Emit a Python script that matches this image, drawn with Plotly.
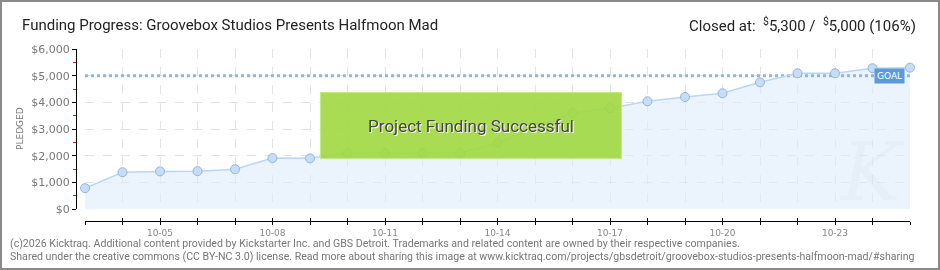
import plotly.graph_objects as go

# ---- data ----
dates = ["2015-10-%02d" % d for d in range(3, 26)]
pledged = [780, 1380, 1410, 1420, 1490, 1910, 1900, 2090, 2090, 2090, 2100,
           2490, 3060, 3600, 3780, 4040, 4200, 4340, 4750, 5090, 5090, 5280, 5300]
GOAL = 5000
title_text = "Funding Progress: Groovebox Studios Presents Halfmoon Mad"
closed_text = "Closed at:  <sup>$</sup>5,300 /  <sup>$</sup>5,000 (106%)"
footer1 = ("(c)2026 Kicktraq. Additional content provided by Kickstarter Inc. and GBS Detroit. "
           "Trademarks and related content are owned by their respective companies.")
footer2 = ("Shared under the creative commons (CC BY-NC 3.0) license. Read more about sharing this image at "
           "www.kicktraq.com/projects/gbsdetroit/groovebox-studios-presents-halfmoon-mad/#sharing")

W, H = 940, 270
L, R, T, B = 76, 30, 49, 49
PW, PH = W - L - R, H - T - B


def px(x):
    return (x - L) / PW


def py(y):
    return (H - B - y) / PH


fig = go.Figure()

# filled area
fig.add_trace(go.Scatter(x=dates, y=pledged, mode="none", fill="tozeroy",
                         fillcolor="rgba(221,235,252,0.6)", hoverinfo="skip",
                         showlegend=False))
# goal line
fig.add_trace(go.Scatter(x=[dates[0], dates[-1]], y=[GOAL, GOAL], mode="lines",
                         line=dict(color="#8db7e4", width=3, dash="dot"),
                         hoverinfo="skip", showlegend=False, cliponaxis=False))
# pledged line + markers
fig.add_trace(go.Scatter(x=dates, y=pledged, mode="lines+markers",
                         line=dict(color="#b9d7f4", width=1.5),
                         marker=dict(size=9, color="#c6ddf6",
                                     line=dict(color="#93b6dd", width=1)),
                         cliponaxis=False, showlegend=False))
# helper for upward tick marks on the x axis
fig.add_trace(go.Scatter(x=dates, y=pledged, xaxis="x2", mode="markers",
                         opacity=0, hoverinfo="skip", showlegend=False))

DAY = 86400000
fig.update_layout(
    width=W, height=H,
    margin=dict(l=L, r=R, t=T, b=B),
    paper_bgcolor="white", plot_bgcolor="white",
    xaxis=dict(type="date", domain=[9 / PW, 1], anchor="free", position=0,
               range=[dates[0], dates[-1]], tick0="2015-10-05", dtick=3 * DAY,
               tickformat="%m-%d", showline=True, linecolor="black", linewidth=1,
               ticks="outside", ticklen=3, tickcolor="black",
               showgrid=True, gridcolor="#e3e3e3", griddash="dash", gridwidth=1,
               minor=dict(dtick=DAY, ticks="outside", ticklen=3, tickcolor="black",
                          showgrid=True, gridcolor="#e3e3e3", griddash="dash"),
               tickfont=dict(family="DejaVu Sans", size=9, color="#888"),
               zeroline=False, fixedrange=True),
    xaxis2=dict(type="date", overlaying="x", anchor="free", position=0,
                domain=[9 / PW, 1], range=[dates[0], dates[-1]],
                tick0="2015-10-05", dtick=DAY, ticks="inside", ticklen=3,
                tickcolor="black", showticklabels=False, showgrid=False,
                showline=False, zeroline=False),
    yaxis=dict(domain=[12 / PH, 1], anchor="free", position=0,
               range=[0, 6000], dtick=1000, tickformat="$,.0f",
               showline=True, linecolor="black", linewidth=1,
               ticks="outside", ticklen=4, tickcolor="black",
               showgrid=True, gridcolor="#e3e3e3", griddash="dash",
               minor=dict(dtick=500, ticks="outside", ticklen=3, tickcolor="red",
                          showgrid=False),
               tickfont=dict(family="DejaVu Sans", size=11, color="#777"),
               zeroline=False, fixedrange=True),
)

ann = []
ann.append(dict(text=title_text, xref="paper", yref="paper", x=px(20), y=py(25),
                xanchor="left", yanchor="middle", showarrow=False,
                font=dict(family="Roboto", size=15, color="#222")))
ann.append(dict(text=closed_text, xref="paper", yref="paper", x=px(918), y=py(25),
                xanchor="right", yanchor="middle", showarrow=False,
                font=dict(family="Roboto", size=15, color="#222")))
ann.append(dict(text="PLEDGED", xref="paper", yref="paper", x=px(20), y=py(129),
                xanchor="center", yanchor="middle", textangle=-90, showarrow=False,
                font=dict(family="DejaVu Sans", size=9, color="#777")))
ann.append(dict(text="GOAL", xref="paper", yref="y", x=px(905), y=GOAL,
                xanchor="right", yanchor="middle", showarrow=False,
                bgcolor="#5b9bd9", borderpad=2,
                font=dict(family="DejaVu Sans", size=9, color="white")))
ann.append(dict(text="K", xref="paper", yref="paper", x=px(872), y=py(172),
                xanchor="center", yanchor="middle", showarrow=False,
                font=dict(family="DejaVu Serif", size=80, color="rgba(0,0,0,0.018)",
                          style="italic")))
ann.append(dict(text="Project Funding Successful", xref="paper", yref="paper",
                x=px(470.5), y=py(125), xanchor="center", yanchor="middle",
                showarrow=False, width=300, height=65, borderpad=0,
                bgcolor="rgba(160,216,64,0.9)", bordercolor="#c2ea86", borderwidth=1,
                font=dict(family="Roboto", size=17, color="#444",
                          shadow="1px 1px 0px #ffffff")))
ann.append(dict(text=footer1, xref="paper", yref="paper", x=px(8), y=py(243),
                xanchor="left", yanchor="middle", showarrow=False,
                font=dict(family="Roboto", size=10.6, color="#777")))
ann.append(dict(text=footer2, xref="paper", yref="paper", x=px(8), y=py(256),
                xanchor="left", yanchor="middle", showarrow=False,
                font=dict(family="Roboto", size=10.6, color="#777")))
fig.update_layout(annotations=ann)

fig.add_shape(type="rect", xref="paper", yref="paper",
              x0=px(1), x1=px(939), y0=py(269), y1=py(1),
              line=dict(color="#8a8a8a", width=2), fillcolor="rgba(0,0,0,0)")

fig.write_html("out.html")
